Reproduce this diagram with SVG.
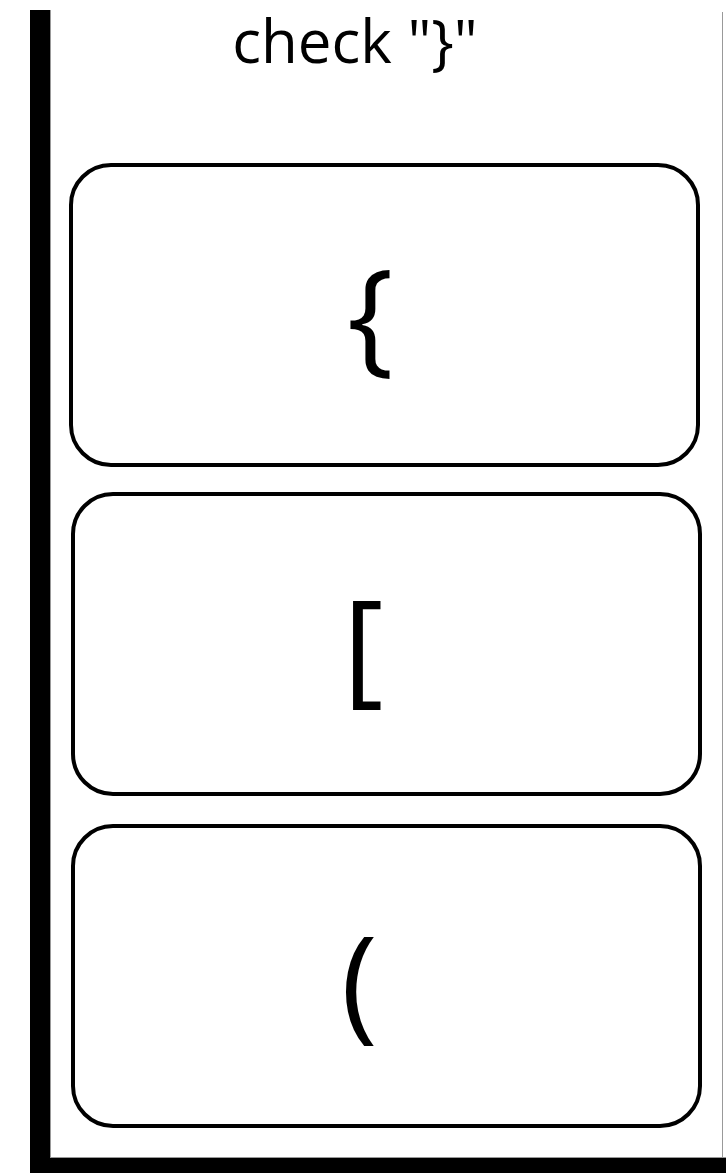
<svg xmlns="http://www.w3.org/2000/svg" width="726" height="1173" viewBox="0 0 726 1173">
<style>
.box{fill:#fff;stroke:#000;stroke-width:4}
.t{font-family:"Open Sans","Noto Sans",sans-serif;fill:#000}
.br{font-size:124px;font-weight:400}
</style>
<rect width="726" height="1173" fill="#fff"/>
<g id="frame">
<line x1="50.5" y1="10" x2="50.5" y2="1158" stroke="#999" stroke-width="1"/>
<line x1="722.5" y1="12" x2="722.5" y2="1158" stroke="#999" stroke-width="1"/>
<line x1="50" y1="1157.5" x2="726" y2="1157.5" stroke="#999" stroke-width="1"/>
<rect x="30" y="10" width="20" height="1163" fill="#000"/>
<rect x="30" y="1158" width="696" height="15" fill="#000"/>
</g>
<g id="title"><text class="t" x="355" y="63" font-size="60" text-anchor="middle">check "}"</text></g>
<g id="node1"><rect class="box" x="71" y="165" width="627" height="300" rx="40"/><text class="t br" x="347" y="359">{</text></g>
<g id="node2"><rect class="box" x="73" y="494" width="627" height="300" rx="40"/><text class="t br" x="343" y="690">[</text></g>
<g id="node3"><rect class="box" x="73" y="826" width="627" height="300" rx="40"/><text class="t br" x="341" y="1026">(</text></g>
<g id="connectors"></g>
</svg>
